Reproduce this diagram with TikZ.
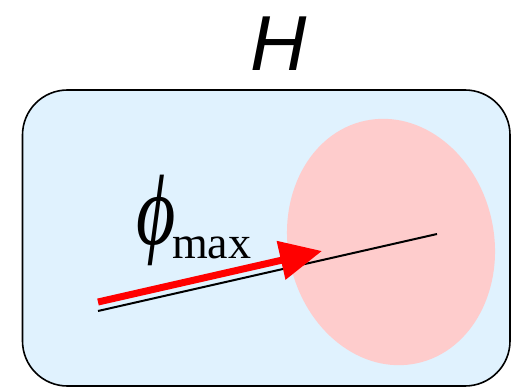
\documentclass[tikz,border=0pt]{standalone}
\usepackage{fontspec}
\usepackage{graphicx}
\newfontfamily\hfont{Liberation Sans}
\newfontfamily\tfont{Liberation Serif}
\usetikzlibrary{arrows.meta}
\definecolor{boxblue}{RGB}{224,242,254}
\definecolor{blobpink}{RGB}{254,204,204}
\definecolor{arrred}{RGB}{255,0,0}
\begin{document}
\begin{tikzpicture}[x=1pt,y=-1pt,
  space/.style={draw=black,line width=1.6pt,fill=boxblue,rounded corners=45pt},
  blob/.style={fill=blobpink},
  ray/.style={draw=black,line width=2pt},
  vec/.style={draw=arrred,line width=7pt,-{Triangle[length=42pt,width=38pt]}},
  lbl/.style={inner sep=0pt,outer sep=0pt}]
\useasboundingbox (0,0) rectangle (513,387);
\path[space] (22.5,90) rectangle (510,386);
\fill[blob, rotate around={12:(391,242)}] (391,242) ellipse [x radius=103pt, y radius=124pt];
\coordinate (rs) at (98,311);
\coordinate (re) at (437,234);
\coordinate (vs) at (98,302);
\coordinate (ve) at (322,251);
\draw[ray] (rs) -- (re);
\draw[vec] (vs) -- (ve);
\node[lbl,anchor=base] (H) at (279,71) {\fontsize{78}{80}\selectfont\hfont\itshape H};
\node[lbl] (phi) at (156.5,220) {\scalebox{0.95}[1.25]{\fontsize{80}{82}\selectfont\tfont\itshape ϕ}};
\node[lbl,anchor=base west] (max) at (172,258) {\fontsize{46}{48}\selectfont\tfont max};
\end{tikzpicture}
\end{document}
